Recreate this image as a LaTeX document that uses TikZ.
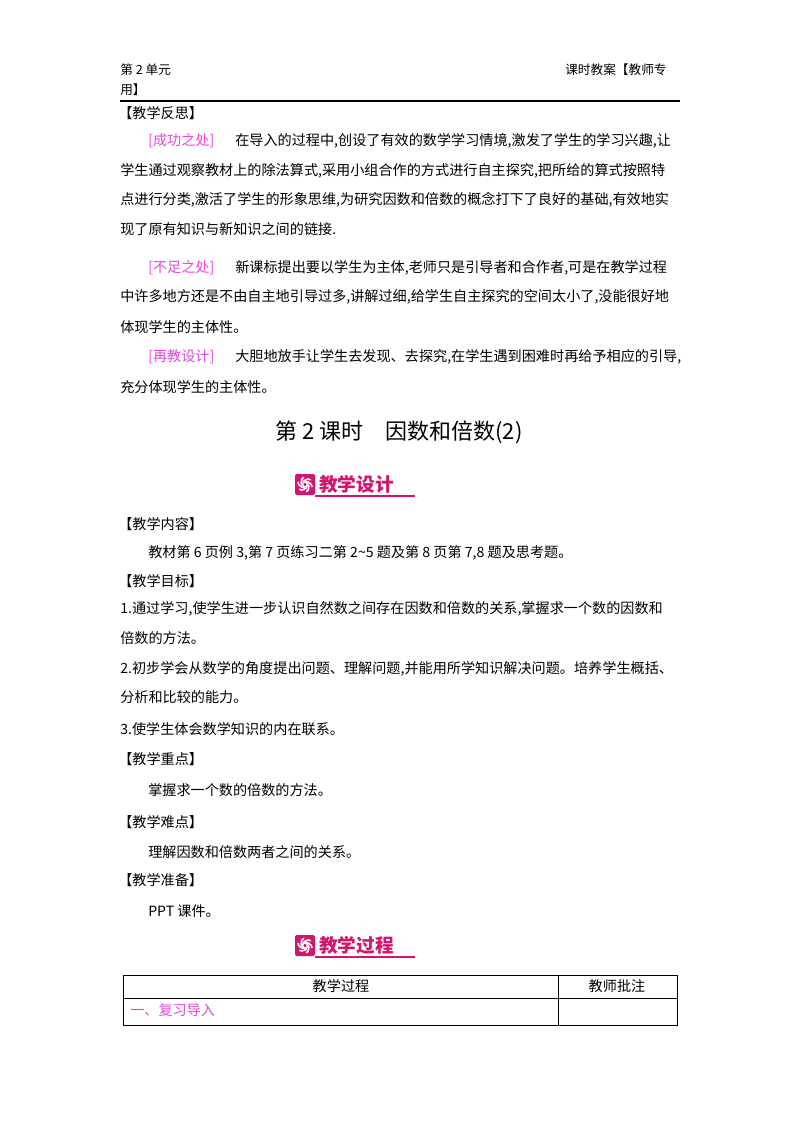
\documentclass[tikz,border=0pt]{standalone}
\usepackage{fontspec}
\setmainfont{Liberation Serif}
\newfontfamily\cjk{Noto Sans CJK SC}
\usetikzlibrary{positioning}
\definecolor{labelpink}{RGB}{230,70,220}
\definecolor{bannerred}{RGB}{212,20,110}
\tikzset{
  txt/.style={anchor=west, inner sep=0pt, font=\cjk\fontsize{10.6pt}{12pt}\selectfont},
  head/.style={anchor=west, inner sep=0pt, font=\cjk\fontsize{9.5pt}{11pt}\selectfont},
  tag/.style={txt, text=labelpink},
  banner/.style={anchor=west, inner sep=0pt, text=bannerred, font=\cjk\bfseries\fontsize{14pt}{15pt}\selectfont},
  cell/.style={inner sep=0pt, font=\cjk\fontsize{10.6pt}{12pt}\selectfont}
}
\begin{document}
\begin{tikzpicture}[x=0.75pt, y=-0.75pt]
  \useasboundingbox[fill=white] (0,0) rectangle (800,1132);
  % page header
  \node[head] (unit) at (120,70) {第 2 单元};
  \node[head] (kind) at (565,70) {课时教案【教师专};
  \node[head] (kind2) at (120,90) {用】};
  \draw[line width=0.9pt] (120,101) -- (680,101);
  % reflection
  \node[txt] (fansi) at (118,113) {【教学反思】};
  \node[tag] (cg) at (148,141) {[成功之处]};
  \node[txt] (cg1) at (235,141) {在导入的过程中,创设了有效的数学学习情境,激发了学生的学习兴趣,让};
  \node[txt] (cg2) at (120,171) {学生通过观察教材上的除法算式,采用小组合作的方式进行自主探究,把所给的算式按照特};
  \node[txt] (cg3) at (120,200) {点进行分类,激活了学生的形象思维,为研究因数和倍数的概念打下了良好的基础,有效地实};
  \node[txt] (cg4) at (120,229) {现了原有知识与新知识之间的链接.};
  \node[tag] (bz) at (148,268) {[不足之处]};
  \node[txt] (bz1) at (235,268) {新课标提出要以学生为主体,老师只是引导者和合作者,可是在教学过程};
  \node[txt] (bz2) at (120,297) {中许多地方还是不由自主地引导过多,讲解过细,给学生自主探究的空间太小了,没能很好地};
  \node[txt] (bz3) at (120,327) {体现学生的主体性。};
  \node[tag] (zj) at (148,357) {[再教设计]};
  \node[txt] (zj1) at (235,357) {大胆地放手让学生去发现、去探究,在学生遇到困难时再给予相应的引导,};
  \node[txt] (zj2) at (120,387) {充分体现学生的主体性。};
  % lesson title
  \node[inner sep=0pt, font=\cjk\fontsize{16.5pt}{18pt}\selectfont] (title) at (399,432) {第 2 课时\quad 因数和倍数(2)};
  % design banner
  \fill[bannerred, rounded corners=1.5pt] (295,474) rectangle (315,495);
  \foreach \a in {0,60,...,300}
    \draw[white, line width=1.2pt] ([shift={(\a:2.5)}]305,484.5) arc[start angle=\a, end angle=\a+120, radius=5.5];
  \node[banner] (sheji) at (319,484) {教学设计};
  \draw[bannerred, line width=0.8pt] (315,496) -- (415,496);
  % design content
  \node[txt] (neirong) at (118,524) {【教学内容】};
  \node[txt] (nr1) at (148,553) {教材第 6 页例 3,第 7 页练习二第 2\textasciitilde5 题及第 8 页第 7,8 题及思考题。};
  \node[txt] (mubiao) at (118,581) {【教学目标】};
  \node[txt] (mb1) at (120,609) {1.通过学习,使学生进一步认识自然数之间存在因数和倍数的关系,掌握求一个数的因数和};
  \node[txt] (mb1b) at (120,638) {倍数的方法。};
  \node[txt] (mb2) at (120,669) {2.初步学会从数学的角度提出问题、理解问题,并能用所学知识解决问题。培养学生概括、};
  \node[txt] (mb2b) at (120,697) {分析和比较的能力。};
  \node[txt] (mb3) at (120,729) {3.使学生体会数学知识的内在联系。};
  \node[txt] (zhongdian) at (118,759) {【教学重点】};
  \node[txt] (zd1) at (148,790) {掌握求一个数的倍数的方法。};
  \node[txt] (nandian) at (118,822) {【教学难点】};
  \node[txt] (nd1) at (148,852) {理解因数和倍数两者之间的关系。};
  \node[txt] (zhunbei) at (118,880) {【教学准备】};
  \node[txt] (zb1) at (148,911) {PPT 课件。};
  % process banner
  \fill[bannerred, rounded corners=1.5pt] (295,935) rectangle (315,956);
  \foreach \a in {0,60,...,300}
    \draw[white, line width=1.2pt] ([shift={(\a:2.5)}]305,945.5) arc[start angle=\a, end angle=\a+120, radius=5.5];
  \node[banner] (guocheng) at (319,945) {教学过程};
  \draw[bannerred, line width=0.8pt] (315,957) -- (415,957);
  % table
  \draw[line width=0.6pt] (123,975) rectangle (677,1025);
  \draw[line width=0.6pt] (123,998) -- (677,998);
  \draw[line width=0.6pt] (558,975) -- (558,1025);
  \node[cell] (colA) at (341,986) {教学过程};
  \node[cell] (colB) at (617,986) {教师批注};
  \node[tag] (fuxi) at (130,1010) {一、复习导入};
\end{tikzpicture}
\end{document}
